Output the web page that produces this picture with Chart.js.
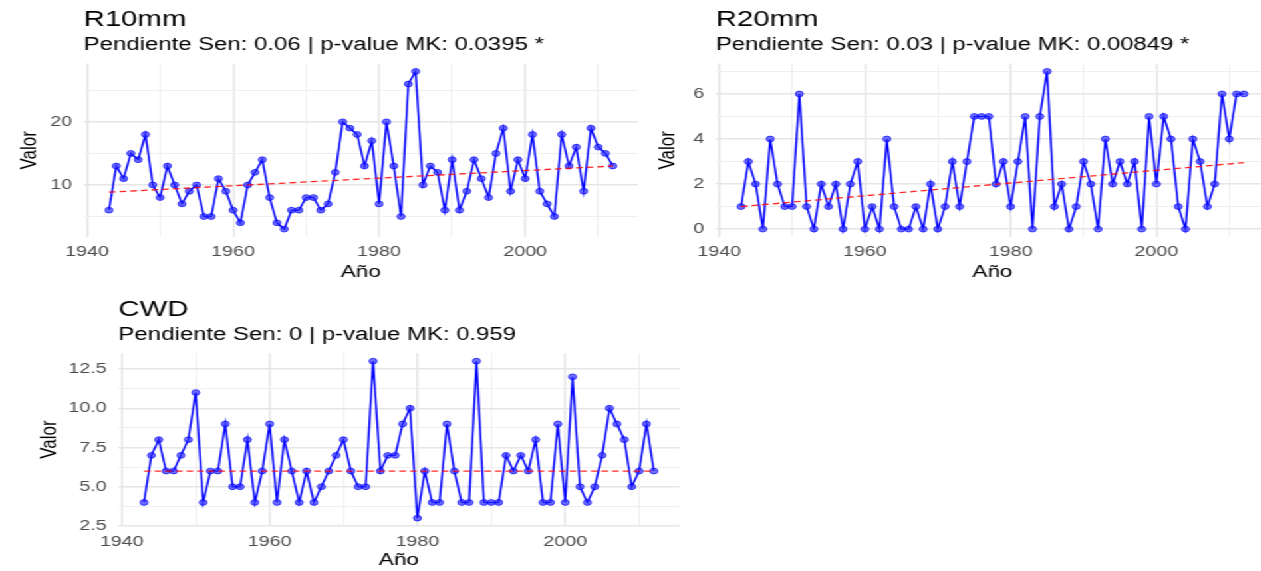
<!DOCTYPE html>
<html><head><meta charset="utf-8">
<script src="https://cdn.jsdelivr.net/npm/chart.js@4/dist/chart.umd.min.js"></script>
<style>
html,body{margin:0;padding:0;background:#fff;overflow:hidden;width:1261px;height:571px}
#outer{position:relative;width:1261px;height:571px;overflow:hidden;background:#fff}
#wrap{position:absolute;left:0;top:0;width:960px;height:571px;transform:scaleX(1.33);transform-origin:0 0}
#wrap canvas{position:absolute;left:0;top:0}
</style></head><body><div id="outer"><div id="wrap">
<canvas id="c1" width="960" height="571"></canvas>
<canvas id="c2" width="960" height="571"></canvas>
<canvas id="c3" width="960" height="571"></canvas>
</div></div>
<script>
// ---- data ----
const years = [1943,1944,1945,1946,1947,1948,1949,1950,1951,1952,
  1953,1954,1955,1956,1957,1958,1959,1960,1961,1962,
  1963,1964,1965,1966,1967,1968,1969,1970,1971,1972,
  1973,1974,1975,1976,1977,1978,1979,1980,1981,1982,
  1983,1984,1985,1986,1987,1988,1989,1990,1991,1992,
  1993,1994,1995,1996,1997,1998,1999,2000,2001,2002,
  2003,2004,2005,2006,2007,2008,2009,2010,2011,2012];
const r10mm = [6,13,11,15,14,18,10,8,13,10, 7,9,10,5,5,11,9,6,4,10, 12,14,8,4,3,6,6,8,8,6,
  7,12,20,19,18,13,17,7,20,13, 5,26,28,10,13,12,6,14,6,9, 14,11,8,15,19,9,14,11,18,9, 7,5,18,13,16,9,19,16,15,13];
const r20mm = [1,3,2,0,4,2,1,1,6,1, 0,2,1,2,0,2,3,0,1,0, 4,1,0,0,1,0,2,0,1,3,
  1,3,5,5,5,2,3,1,3,5, 0,5,7,1,2,0,1,3,2,0, 4,2,3,2,3,0,5,2,5,4, 1,0,4,3,1,2,6,4,6,6];
const cwd = [4,7,8,6,6,7,8,11,4,6, 6,9,5,5,8,4,6,9,4,8, 6,4,6,4,5,6,7,8,6,5,
  5,13,6,7,7,9,10,3,6,4, 4,9,6,4,4,13,4,4,4,7, 6,7,6,8,4,4,9,4,12,5, 4,5,7,10,9,8,5,6,9,6];
const trendYears = [1943, 2012];
const r10mmTrend = [8.85, 13.0];
const r20mmTrend = [1.0, 2.95];
const cwdTrend = [6, 6];
const xTicks = [1940,1950,1960,1970,1980,1990,2000,2010];
const xLabels = ['1940','','1960','','1980','','2000',''];
const r10YTicks = [5,10,15,20,25];
const r10YLabels = ['','10','','20',''];
const r20YTicks = [0,1,2,3,4,5,6,7];
const r20YLabels = ['0','','2','','4','','6',''];
const cwdYTicks = [2.5,3.75,5,6.25,7.5,8.75,10,11.25,12.5];
const cwdYLabels = ['2.5','','5.0','','7.5','','10.0','','12.5'];
const titles = ['R10mm','R20mm','CWD'];
const subtitles = ['Pendiente Sen: 0.06 | p-value MK: 0.0395 *',
  'Pendiente Sen: 0.03 | p-value MK: 0.00849 *',
  'Pendiente Sen: 0 | p-value MK: 0.959'];

// ---- drawing ----
const F = '"Liberation Sans", Arial, sans-serif';
const W = 960, H = 571;
function gridOpts(labels){
  return {
    drawTicks:false,
    color: c => labels[c.index] !== '' ? '#e6e6e6' : '#efefef',
    lineWidth: c => labels[c.index] !== '' ? 1.5 : 1.0
  };
}
function makePanel(id, p){
  const xH = p.xH;
  new Chart(document.getElementById(id), {
    type:'line',
    data:{datasets:[
      {data: trendYears.map((x,i)=>({x:x, y:p.trend[i]})), borderColor:'rgba(255,0,0,0.85)', borderWidth:1.3,
       borderDash:[5,3], pointRadius:0, fill:false, tension:0},
      {data: years.map((x,i)=>({x:x, y:p.values[i]})), borderColor:'#0000ff', borderWidth:1.5, tension:0, fill:false,
       pointRadius:2.9, pointBackgroundColor:'rgba(40,40,255,0.65)', pointBorderColor:'rgba(0,0,255,0.7)', pointBorderWidth:1}
    ]},
    options:{
      responsive:false, animation:false, devicePixelRatio:1, events:[],
      layout:{padding:{left:p.padL, right:W - p.area.right, top:p.area.top - 63.5, bottom:Math.max(0, H - p.area.bottom - xH)}},
      plugins:{
        legend:{display:false}, tooltip:{enabled:false},
        title:{display:true, text:p.title, align:'start', fullSize:false, color:'#000',
          font:{family:F, size:22, weight:'normal', lineHeight:1.2}, padding:{top:6.5, bottom:0}},
        subtitle:{display:true, text:p.subtitle, align:'start', fullSize:false, color:'#000',
          font:{family:F, size:18, weight:'normal', lineHeight:1.2}, padding:{top:1.6, bottom:7.4}}
      },
      scales:{
        x:{type:'linear', min:1939.55, max:2015.45,
          afterFit: s => { s.height = xH; },
          afterBuildTicks: s => { s.ticks = xTicks.map(v => ({value:v})); },
          ticks:{autoSkip:false, maxRotation:0, minRotation:0, padding:p.xPad, color:'#4d4d4d',
            font:{family:F, size:14.8}, callback:(v,i) => xLabels[i]},
          grid:gridOpts(xLabels), border:{display:false},
          title:{display:true, text:'Año', color:'#000', font:{family:F, size:17}, padding:0}},
        y:{type:'linear', min:p.yMin, max:p.yMax,
          afterFit: s => { s.width = p.area.left - p.padL; },
          afterBuildTicks: s => { s.ticks = p.yTicks.map(v => ({value:v})); },
          ticks:{autoSkip:false, padding:8.8, color:'#4d4d4d', font:{family:F, size:14.8},
            callback:(v,i) => p.yLabels[i]},
          grid:gridOpts(p.yLabels), border:{display:false},
          title:{display:true, text:'Valor', color:'#000', font:{family:F, size:17}, padding:0}}
      }
    }
  });
}
makePanel('c1', {title:titles[0], subtitle:subtitles[0], values:r10mm, trend:r10mmTrend,
  yTicks:r10YTicks, yLabels:r10YLabels, yMin:1.75, yMax:29.25,
  area:{left:63.0, right:479.7, top:63.5, bottom:237}, padL:12.4, xPad:5.6, xH:45.2});
makePanel('c2', {title:titles[1], subtitle:subtitles[1], values:r20mm, trend:r20mmTrend,
  yTicks:r20YTicks, yLabels:r20YLabels, yMin:-0.35, yMax:7.35,
  area:{left:538.3, right:954.1, top:63.5, bottom:237}, padL:492.1, xPad:5.8, xH:45.2});
makePanel('c3', {title:titles[2], subtitle:subtitles[2], values:cwd, trend:cwdTrend,
  yTicks:cwdYTicks, yLabels:cwdYLabels, yMin:2.5, yMax:13.5,
  area:{left:89.1, right:510.8, top:353.3, bottom:526}, padL:27.5, xPad:6.6, xH:45});
</script>
</body></html>
